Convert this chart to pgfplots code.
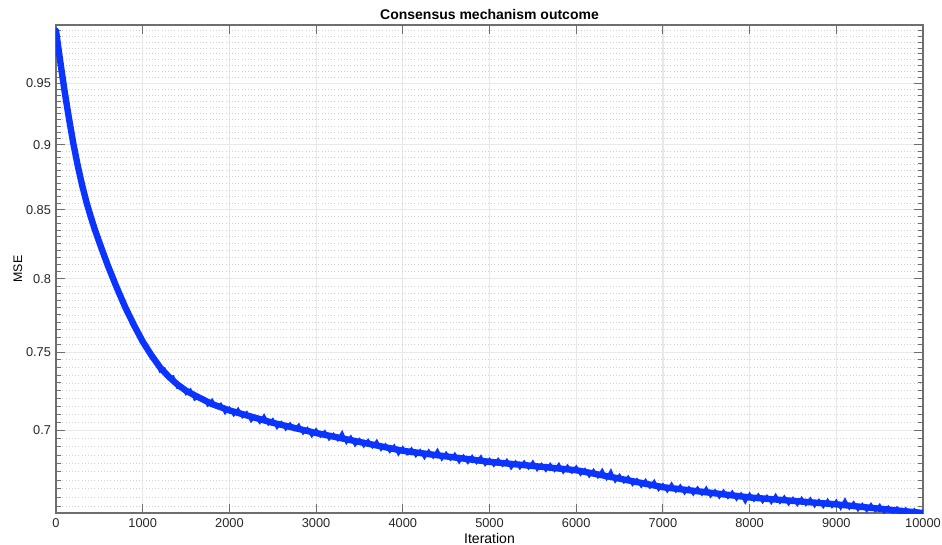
\documentclass[border=0pt]{standalone}
\usepackage{pgfplots}
\pgfplotsset{compat=1.18}
\usepackage{fontspec}
\setmainfont{Liberation Sans}
\usetikzlibrary{calc}
\definecolor{mblue}{RGB}{12,52,255}
\definecolor{axgray}{RGB}{110,110,110}
\begin{document}
\begin{tikzpicture}
\begin{axis}[
  scale only axis, width=433.5pt, height=244pt,
  ymode=log, xmin=0, xmax=10000, ymin=0.651, ymax=1,
  scaled x ticks=false,
  xtick={0,1000,2000,3000,4000,5000,6000,7000,8000,9000,10000},
  xticklabels={0,1000,2000,3000,4000,5000,6000,7000,8000,9000,10000},
  ytick={0.7,0.75,0.8,0.85,0.9,0.95},
  yticklabels={0.7,0.75,0.8,0.85,0.9,0.95},
  minor ytick={0.655,0.66,0.665,0.67,0.675,0.68,0.685,0.69,0.695,0.705,0.71,0.715,0.72,0.725,0.73,0.735,0.74,0.745,0.755,0.76,0.765,0.77,0.775,0.78,0.785,0.79,0.795,0.805,0.81,0.815,0.82,0.825,0.83,0.835,0.84,0.845,0.855,0.86,0.865,0.87,0.875,0.88,0.885,0.89,0.895,0.905,0.91,0.915,0.92,0.925,0.93,0.935,0.94,0.945,0.955,0.96,0.965,0.97,0.975,0.98,0.985,0.99,0.995},
  tick align=inside, major tick length=4.5pt, minor tick length=2.5pt,
  every tick/.style={axgray, line width=0.5pt},
  axis line style={axgray, line width=0.6pt},
  grid=both,
  major grid style={gray!18, line width=0.6pt},
  minor grid style={gray!38, line width=0.4pt, dash pattern=on 0.5pt off 1.1pt},
  tick label style={font=\fontsize{6.4}{7}\selectfont, black!85},
  title={Consensus mechanism outcome},
  title style={font=\bfseries\fontsize{7}{8}\selectfont, yshift=-7pt},
  xlabel={Iteration}, ylabel={MSE},
  xlabel style={font=\fontsize{7}{8}\selectfont, yshift=4pt},
  ylabel style={font=\fontsize{6.2}{7}\selectfont, yshift=-5pt},
  xticklabel style={yshift=1pt},
  yticklabel style={xshift=1pt},
]
% core of the curve
\addplot[mblue, line width=3.2pt, line join=round, line cap=round] coordinates {
(0,0.995) (50,0.968) (100,0.943) (150,0.921) (200,0.901) (250,0.884) (300,0.869) (350,0.856) (400,0.845) (450,0.835)
(500,0.826) (600,0.809) (700,0.794) (800,0.780) (900,0.768) (1000,0.757) (1100,0.748) (1200,0.740) (1300,0.734) (1400,0.729)
(1500,0.725) (1600,0.722) (1800,0.7165) (2000,0.7125) (2500,0.7048) (3000,0.6985) (3500,0.693) (4000,0.6876) (4500,0.6843) (5000,0.681)
(5500,0.6785) (6000,0.676) (6500,0.671) (7000,0.666) (7500,0.663) (8000,0.660) (8500,0.658) (9000,0.656) (9500,0.6535) (10000,0.651)
};
% fluctuations around it
\addplot[mblue, line width=1.3pt, line join=miter] coordinates {
(0,0.995) (50,0.968) (100,0.943) (150,0.921) (200,0.901) (250,0.884) (300,0.869) (350,0.856) (400,0.845) (450,0.8355)
(500,0.8255) (550,0.8178) (600,0.8078) (650,0.8022) (700,0.7928) (750,0.7882) (800,0.7785) (850,0.7752) (900,0.7665) (950,0.7635)
(1000,0.7555) (1050,0.7545) (1100,0.746) (1150,0.7455) (1200,0.7375) (1250,0.739) (1300,0.733) (1350,0.734) (1400,0.727) (1450,0.728)
(1500,0.723) (1550,0.7255) (1600,0.7195) (1650,0.7215) (1700,0.7205) (1750,0.7158) (1800,0.719) (1850,0.7145) (1900,0.7165) (1950,0.711)
(2000,0.714) (2050,0.7097) (2100,0.7133) (2150,0.7085) (2200,0.7112) (2250,0.706) (2300,0.7087) (2350,0.705) (2400,0.7092) (2450,0.704)
(2500,0.7068) (2550,0.7017) (2600,0.705) (2650,0.7008) (2700,0.7042) (2750,0.7006) (2800,0.7035) (2850,0.6984) (2900,0.7013) (2950,0.6967)
(3000,0.7005) (3050,0.6965) (3100,0.6994) (3150,0.6948) (3200,0.6978) (3250,0.6943) (3300,0.6987) (3350,0.6926) (3400,0.6961) (3450,0.6911)
(3500,0.6945) (3550,0.6905) (3600,0.694) (3650,0.690) (3700,0.6935) (3750,0.6884) (3800,0.6913) (3850,0.6872) (3900,0.6907) (3950,0.6856)
(4000,0.6896) (4050,0.6858) (4100,0.6889) (4150,0.6846) (4200,0.6878) (4250,0.6834) (4300,0.6876) (4350,0.6838) (4400,0.688) (4450,0.6826)
(4500,0.6863) (4550,0.6825) (4600,0.6856) (4650,0.6808) (4700,0.6845) (4750,0.6806) (4800,0.6843) (4850,0.6805) (4900,0.6841) (4950,0.6793)
(5000,0.6825) (5050,0.6788) (5100,0.6825) (5150,0.6788) (5200,0.682) (5250,0.6773) (5300,0.681) (5350,0.6773) (5400,0.681) (5450,0.6773)
(5500,0.681) (5550,0.6763) (5600,0.6795) (5650,0.6758) (5700,0.6795) (5750,0.6758) (5800,0.6795) (5850,0.6748) (5900,0.6785) (5950,0.6748)
(6000,0.678) (6050,0.6735) (6100,0.6765) (6150,0.6725) (6200,0.676) (6250,0.672) (6300,0.676) (6350,0.671) (6400,0.6755) (6450,0.6695)
(6500,0.673) (6550,0.669) (6600,0.672) (6650,0.6675) (6700,0.6705) (6750,0.6665) (6800,0.670) (6850,0.666) (6900,0.6695) (6950,0.6645)
(7000,0.6675) (7050,0.6637) (7100,0.6679) (7150,0.6636) (7200,0.6668) (7250,0.6625) (7300,0.6657) (7350,0.6619) (7400,0.6656) (7450,0.6618)
(7500,0.6655) (7550,0.6607) (7600,0.6639) (7650,0.6601) (7700,0.6638) (7750,0.660) (7800,0.6632) (7850,0.6589) (7900,0.6621) (7950,0.6573)
(8000,0.662) (8050,0.6583) (8100,0.6616) (8150,0.6574) (8200,0.6607) (8250,0.657) (8300,0.6613) (8350,0.6571) (8400,0.6604) (8450,0.6562)
(8500,0.6595) (8550,0.6558) (8600,0.6596) (8650,0.6559) (8700,0.6592) (8750,0.655) (8800,0.6583) (8850,0.6546) (8900,0.6584) (8950,0.6547)
(9000,0.658) (9050,0.6538) (9100,0.6585) (9150,0.6538) (9200,0.657) (9250,0.6528) (9300,0.656) (9350,0.6523) (9400,0.656) (9450,0.6523)
(9500,0.6555) (9550,0.6513) (9600,0.6545) (9650,0.6513) (9700,0.654) (9750,0.6508) (9800,0.6535) (9850,0.6503) (9900,0.653) (9950,0.6503)
(10000,0.651)
};
\end{axis}
\pgfresetboundingbox
\path ($(current axis.south west)+(-28pt,-16pt)$) rectangle ($(current axis.north east)+(9.5pt,12.5pt)$);
\end{tikzpicture}
\end{document}
